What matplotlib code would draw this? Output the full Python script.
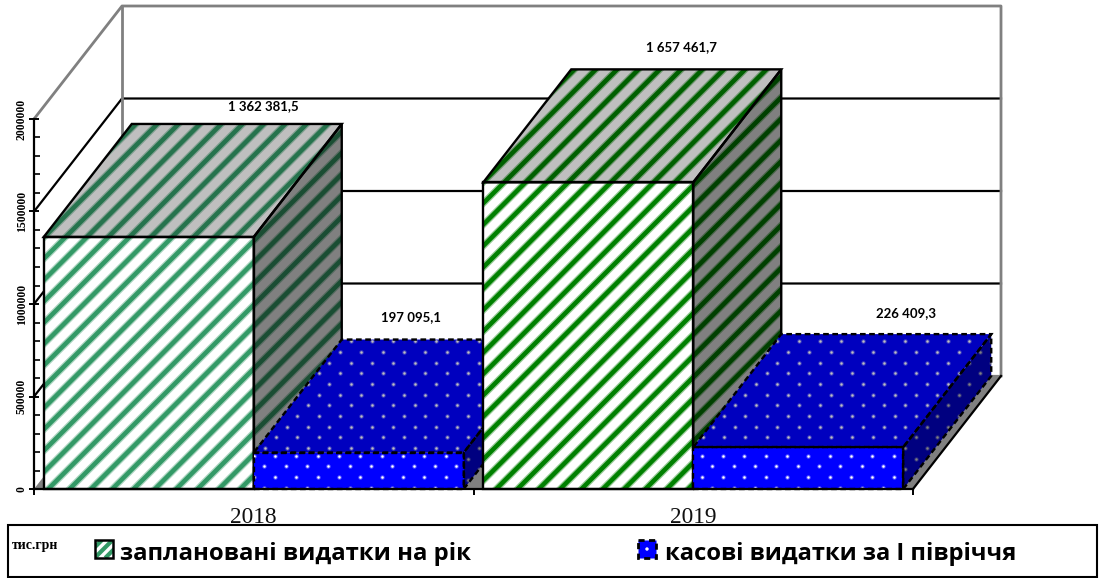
import numpy as np
import matplotlib
matplotlib.use("Agg")
import matplotlib.pyplot as plt
from matplotlib.patches import Polygon, Rectangle
from matplotlib.collections import LineCollection
from matplotlib.ticker import MultipleLocator, FixedLocator
from matplotlib.transforms import Affine2D

W, H = 1102, 578

categories = ["2018", "2019"]
planned = [1362381.5, 1657461.7]
spent = [197095.1, 226409.3]
y_ticks = [0, 500000, 1000000, 1500000, 2000000]
legend_labels = ["заплановані видатки на рік", "касові видатки за І півріччя"]
unit_label = "тис.грн"

# label centres in pixels, (planned, spent) per category
planned_label_px = [(263, 106), (681, 47)]
spent_label_px = [(411, 317), (906, 313)]

planned_colors = ["#339966", "#008000"]
spent_color = "#0000ff"

# y down pixel coords -> display
px = Affine2D().scale(1, -1).translate(0, H)

fig = plt.figure(figsize=(W / 100, H / 100), dpi=100)
ax = fig.add_axes([34 / W, 1 - 489 / H, 879 / W, 370 / H])
ax.set_xlim(0, 2)
ax.set_ylim(0, 2000000)
ax.patch.set_visible(False)

# depth of the fake 3d box, in data units
dx = 88 / 879 * 2
dy = 113 / 370 * 2000000
bar_w = 210 / 439.5


def shade(color, k):
    rgb = np.array(matplotlib.colors.to_rgb(color)) * k
    return tuple(rgb)


def stripes(patch, color):
    # diagonal stripes fixed to screen pixels, clipped to the face
    period = 21.33
    lines = []
    for c in np.arange(-600, 1800, period):
        lines.append([(c + 4, 600), (c + 604, 0)])
    # wide faint line under a thin one, the original pattern is blurry
    for lw, alpha in [(5.0, 0.4), (3.2, 1.0)]:
        lc = LineCollection(lines, colors=[color], linewidths=lw, alpha=alpha, transform=px,
                            zorder=patch.get_zorder(), capstyle="butt")
        ax.add_collection(lc, autolim=False)
        lc.set_clip_box(None)
        lc.set_clip_path(patch)


def dots(patch, color, x0, y0):
    xs, ys = [], []
    for j in range(-13, 8):
        off = 0 if j % 2 == 0 else 10.67
        for k in range(-5, 40):
            xs.append(x0 + k * 21.33 + off)
            ys.append(y0 + j * 10.67)
    for s, alpha in [(10, 0.35), (3, 1.0)]:
        sc = ax.scatter(xs, ys, s=s, c=[color], alpha=alpha, linewidths=0, transform=px,
                        zorder=patch.get_zorder())
        sc.set_clip_box(None)
        sc.set_clip_path(patch)


def face(points, fill, z):
    p = Polygon(points, closed=True, facecolor=fill, edgecolor="none", zorder=z,
                clip_on=False)
    ax.add_patch(p)
    return p


def outline(points, z, linestyle):
    ax.add_patch(Polygon(points, closed=True, fill=False, edgecolor="black", lw=1.7,
                         linestyle=linestyle, zorder=z, clip_on=False))


def box(x0, x1, h, color, z, kind):
    front = [(x0, 0), (x1, 0), (x1, h), (x0, h)]
    top = [(x0, h), (x1, h), (x1 + dx, h + dy), (x0 + dx, h + dy)]
    side = [(x1, 0), (x1 + dx, dy), (x1 + dx, h + dy), (x1, h)]
    for pts, k, zz in [(side, 0.5, z), (top, 0.75, z + 0.1), (front, 1.0, z + 0.2)]:
        if kind == "stripes":
            p = face(pts, shade("white", k), zz)
            stripes(p, shade(color, k))
        else:
            p = face(pts, shade(color, k), zz)
            if k == 1.0:
                dots(p, shade("white", k), 275, 455.7)
            else:
                dots(p, shade("white", k), 276, 437.3)
    ls = "-" if kind == "stripes" else (0, (2.4, 1.5))
    for i, pts in enumerate([side, top, front]):
        outline(pts, z + 0.3 + i * 0.01, ls)


# floor and walls
face([(0, 0), (2, 0), (2 + dx, dy), (dx, dy)], "#808080", 1)
ax.plot([2, 2 + dx], [0, dy], color="black", lw=1.6, clip_on=False, zorder=2)
ax.plot([dx, 2 + dx], [dy, dy], color="#808080", lw=1.6, clip_on=False, zorder=1.5)
for v in y_ticks[1:-1]:
    ax.plot([0, dx, 2 + dx], [v, v + dy, v + dy], color="black", lw=1.6, clip_on=False, zorder=1.5)
top_v = y_ticks[-1]
ax.plot([0, dx, 2 + dx, 2 + dx], [top_v, top_v + dy, top_v + dy, dy], color="#808080", lw=2,
        clip_on=False, zorder=1.5)
ax.plot([dx, dx], [dy, top_v + dy], color="#808080", lw=2, clip_on=False, zorder=1.5)

# bars, painted left to right
for i in range(len(categories)):
    c = i + 0.5
    box(c - bar_w, c, planned[i], planned_colors[i], 3 + i * 2, "stripes")
    box(c, c + bar_w, spent[i], spent_color, 4 + i * 2, "dots")


def fmt(v):
    return f"{v:,.1f}".replace(",", " ").replace(".", ",")


for vals, pos in [(planned, planned_label_px), (spent, spent_label_px)]:
    for v, (x, y) in zip(vals, pos):
        ax.text(x, y, fmt(v), transform=px, ha="center", va="center", family="Lato",
                fontweight="bold", fontsize=9.5, color="black", zorder=20, clip_on=False)

# axes
for s in ["top", "right"]:
    ax.spines[s].set_visible(False)
for s in ["left", "bottom"]:
    ax.spines[s].set_linewidth(1.6)
    ax.spines[s].set_zorder(15)
ax.set_yticks(y_ticks)
ax.set_yticklabels([str(v) for v in y_ticks], rotation=90, va="center", family="Liberation Serif",
                   fontweight="bold", fontsize=8.4)
ax.yaxis.set_minor_locator(MultipleLocator(100000))
ax.tick_params(axis="y", which="major", direction="inout", length=7, width=1.4, pad=1)
ax.tick_params(axis="y", which="minor", direction="in", length=4, width=1.2)
ax.set_xticks([0, 1, 2])
ax.set_xticklabels([])
ax.tick_params(axis="x", which="major", direction="out", length=4, width=1.4)
ax.xaxis.set_minor_locator(FixedLocator([i + 0.5 for i in range(len(categories))]))
ax.set_xticklabels(categories, minor=True, family="Liberation Serif", fontsize=16.8, color="#111111")
ax.tick_params(axis="x", which="minor", length=0, pad=13)

# legend box, drawn by hand so it sits over the category labels
fig.add_artist(Rectangle((8, 525), 1089, 52, transform=px, facecolor="white", edgecolor="black",
                         lw=1.5, zorder=30))
fig.text(12, 545, unit_label, transform=px, family="Liberation Serif", fontweight="bold",
         fontsize=10, va="center", zorder=31)

sw1 = Rectangle((95, 540), 18, 18, transform=px, facecolor="white", edgecolor="none", zorder=31)
fig.add_artist(sw1)
lc = LineCollection([[(c, 558), (c + 18, 540)] for c in np.arange(84, 116, 10.6)],
                    colors=[planned_colors[0]], linewidths=3, transform=px, zorder=31)
fig.add_artist(lc)
lc.set_clip_box(None)
lc.set_clip_path(sw1)
fig.add_artist(Rectangle((95, 540), 18, 18, transform=px, fill=False, edgecolor="black", lw=1.8, zorder=32))

fig.add_artist(Rectangle((638, 540), 18, 18, transform=px, facecolor=spent_color, edgecolor="black",
                         lw=2, linestyle=(0, (2.2, 1.6)), zorder=31))
fig.add_artist(plt.Circle((647, 549), 1.0, transform=px, color="white", zorder=32))

fig.text(120, 560, legend_labels[0], transform=px, family="Open Sans", fontweight="bold",
         fontsize=17.2, va="baseline", color="black", zorder=31)
fig.text(665, 560, legend_labels[1], transform=px, family="Open Sans", fontweight="bold",
         fontsize=17.1, va="baseline", color="black", zorder=31)

fig.savefig("out.png", dpi=100)
